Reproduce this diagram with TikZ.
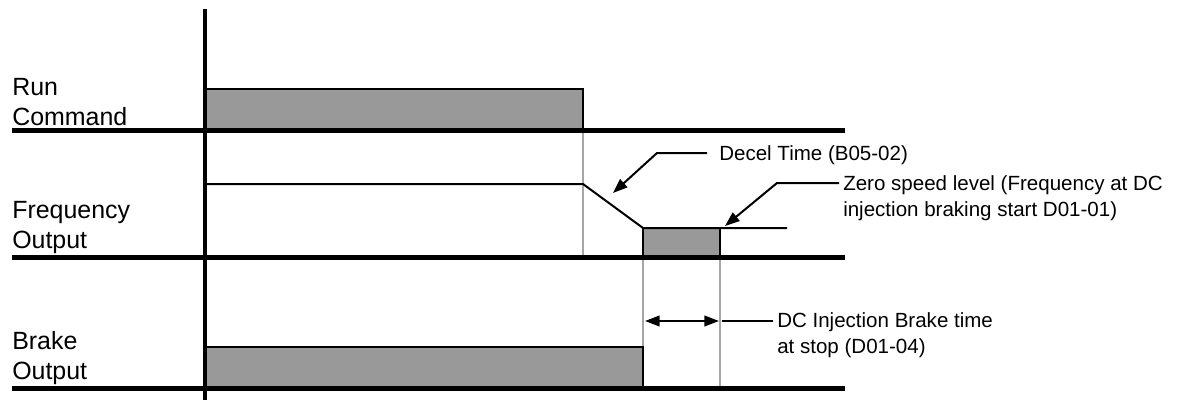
\documentclass[tikz,border=0pt]{standalone}
\usepackage{fontspec}
\setmainfont{Liberation Sans}
\usetikzlibrary{arrows.meta}
\definecolor{pulsegray}{HTML}{999999}
\definecolor{guidegray}{HTML}{A6A6A6}
\begin{document}
\begin{tikzpicture}[x=0.75pt,y=-0.75pt,
 base/.style={line width=3.75pt},
 axisline/.style={line width=3pt},
 wave/.style={line width=1.5pt},
 guide/.style={line width=1.6pt, draw=guidegray},
 pulse/.style={fill=pulsegray, draw=black, line width=1.5pt},
 lbl/.style={font=\fontsize{18.7}{22.5}\selectfont, align=left, inner sep=0pt, anchor=west},
 note/.style={font=\fontsize{15.4}{19.5}\selectfont, align=left, inner sep=0pt, anchor=west},
 callout/.style={line width=1.5pt, -{Triangle[length=11pt,width=8pt]}},
 dim/.style={line width=1.5pt, {Triangle[length=11pt,width=8pt]}-{Triangle[length=11pt,width=8pt]}},
 leader/.style={line width=1.5pt},
]
\useasboundingbox (0,0) rectangle (1183,400);

% labels
\node[lbl] (run) at (12,102) {Run\\Command};
\node[lbl] (freq) at (12,228) {Frequency\\Output};
\node[lbl] (brake) at (12,358) {Brake\\Output};

% guide lines
\draw[guide] (583,130) -- (583,257);
\draw[guide] (643,257) -- (643,388);
\draw[guide] (720,257) -- (720,388);

% pulses
\path[pulse] (205,89) rectangle (583,130);
\path[pulse] (643,228) rectangle (720,257);
\path[pulse] (205,347) rectangle (643,388);

% frequency waveform
\draw[wave] (205,184) -- (583,184) -- (643,228) -- (787,228);

% baselines
\draw[base] (12,130) -- (845,130);
\draw[base] (12,257) -- (845,257);
\draw[base] (12,388) -- (845,388);

% axis
\draw[axisline] (205,9) -- (205,400);

% callouts
\node[note] (decel) at (719,155) {Decel Time (B05-02)};
\coordinate (decelbend) at (657,153);
\coordinate (deceltip) at (613,193);
\draw[callout] ([xshift=-9pt]decel.west |- decelbend) -- (decelbend) -- (deceltip);

\node[note] (zero) at (843,198) {Zero speed level (Frequency at DC\\injection braking start D01-01)};
\coordinate (zerobend) at (777,183);
\coordinate (zerotip) at (725,226);
\draw[callout] ([xshift=-3pt]zero.west |- zerobend) -- (zerobend) -- (zerotip);

\node[note] (dcib) at (777,335) {DC Injection Brake time\\at stop (D01-04)};
\coordinate (dimL) at (645,321);
\coordinate (dimR) at (719,321);
\draw[dim] (dimL) -- (dimR);
\draw[leader] (722,321) -- ([xshift=-3pt]dcib.west |- dimR);
\end{tikzpicture}
\end{document}
